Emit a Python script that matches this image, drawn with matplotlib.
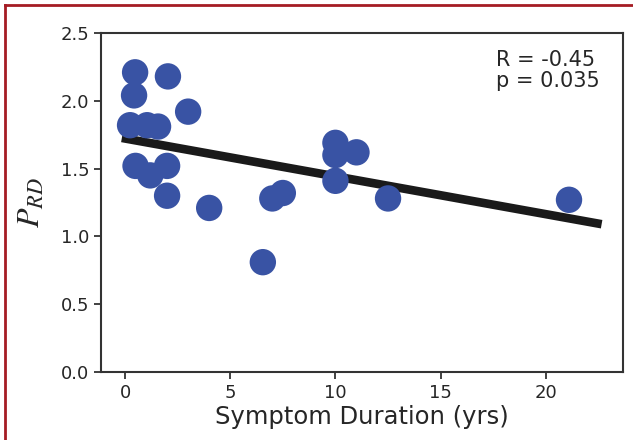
import numpy as np
import matplotlib
matplotlib.use("Agg")
import matplotlib.pyplot as plt
from matplotlib.lines import Line2D

# symptom duration (yrs) and P_RD per subject
duration = [0.48, 0.43, 0.24, 1.05, 1.57, 2.04, 3.0, 0.5, 1.2, 2.0, 2.0,
            4.0, 6.55, 7.0, 7.5, 10.0, 10.0, 10.0, 11.0, 12.5, 21.1]
p_rd = [2.21, 2.04, 1.82, 1.82, 1.81, 2.18, 1.92, 1.52, 1.45, 1.52, 1.30,
        1.21, 0.81, 1.28, 1.32, 1.69, 1.60, 1.41, 1.62, 1.28, 1.27]

# regression line as drawn
fit_x = [-0.15, 22.65]
fit_intercept = 1.722
fit_slope = -0.0279

stats_text = "R = -0.45\np = 0.035"

plt.rcParams["mathtext.fontset"] = "stix"

fig = plt.figure(figsize=(6.33, 4.4), dpi=100)
ax = fig.add_axes([0.1596, 0.1545, 0.8244, 0.7705])

fx = np.array(fit_x)
ax.plot(fx, fit_intercept + fit_slope * fx, color="#1a1a1a", lw=6.2,
        solid_capstyle="butt", zorder=2)
ax.scatter(duration, p_rd, s=361, color="#3953a4", edgecolors="none", zorder=3)

ax.set_xlim(-1.14, 23.66)
ax.set_ylim(0, 2.5)
ax.set_xticks([0, 5, 10, 15, 20])
ax.set_yticks([0.0, 0.5, 1.0, 1.5, 2.0, 2.5])
ax.tick_params(labelsize=13, width=1.3, length=5, color="#333333",
               labelcolor="#262626")
for s in ax.spines.values():
    s.set_linewidth(1.5)
    s.set_color("#333333")

ax.set_xlabel("Symptom Duration (yrs)", fontsize=17.5, color="#262626", labelpad=2)
ax.set_ylabel(r"$P_{RD}$", fontsize=23, color="#262626", labelpad=10)

ax.text(0.756, 0.95, stats_text, transform=ax.transAxes, fontsize=15,
        ha="left", va="top", color="#262626", linespacing=1.05)

# dark red frame (top and left edges visible)
fig.add_artist(Line2D([0.008, 1.0], [0.988, 0.988], color="#a51c24", lw=2.0,
                      transform=fig.transFigure))
fig.add_artist(Line2D([0.008, 0.008], [0.0, 0.988], color="#a51c24", lw=2.0,
                      transform=fig.transFigure))

fig.savefig("out.png", dpi=100)
